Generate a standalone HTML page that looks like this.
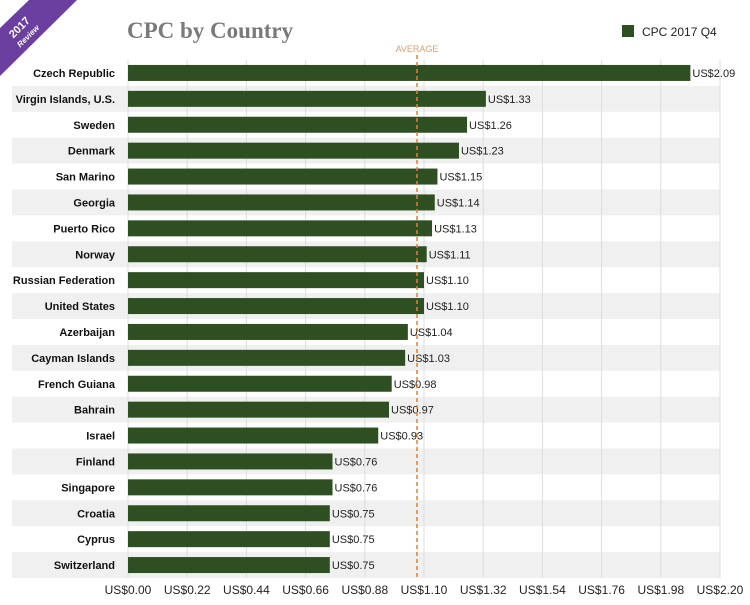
<!DOCTYPE html>
<html><head><meta charset="utf-8"><style>
body{margin:0;background:#fff;width:750px;height:600px;overflow:hidden;font-family:"Liberation Sans",sans-serif}
svg text{font-family:"Liberation Sans",sans-serif}
svg text.title{font-family:"Liberation Serif",serif}
</style></head><body>
<svg id="chart" width="750" height="600">
<g>
<polygon points="0,28 0,76 77,0 29,0" fill="#6b3fa0"/>
<text x="22" y="30" fill="#fff" font-size="11" font-weight="bold" transform="rotate(-45 22 30)" text-anchor="middle">2017</text>
<text x="30" y="38" fill="#fff" font-size="8" font-style="italic" font-weight="bold" transform="rotate(-45 30 38)" text-anchor="middle">Review</text>
</g>
<text class="title" x="127" y="38" font-size="23" font-weight="bold" fill="#7a7a7a">CPC by Country</text>
<g>
<rect x="622" y="25" width="12" height="12" fill="#2e4f22"/>
<text x="642" y="36" font-size="12" fill="#222">CPC 2017 Q4</text>
</g>
<g id="grid"></g><g id="bars"></g><g id="axis"></g>
</svg>
<script>
const categories=["Czech Republic","Virgin Islands, U.S.","Sweden","Denmark","San Marino","Georgia","Puerto Rico","Norway","Russian Federation","United States","Azerbaijan","Cayman Islands","French Guiana","Bahrain","Israel","Finland","Singapore","Croatia","Cyprus","Switzerland"];
const values=[2.09,1.33,1.26,1.23,1.15,1.14,1.13,1.11,1.10,1.10,1.04,1.03,0.98,0.97,0.93,0.76,0.76,0.75,0.75,0.75];
const ticks=[0,0.22,0.44,0.66,0.88,1.10,1.32,1.54,1.76,1.98,2.20];
const average=[1.074];
const NS="http://www.w3.org/2000/svg";
const x0=128,x1=720,xmax=2.2,yTop=60,step=25.9,barH=16;
const X=v=>x0+(v/xmax)*(x1-x0);
const Y=i=>yTop+i*step;
function mk(t,a,p){const e=document.createElementNS(NS,t);for(const k in a)e.setAttribute(k,a[k]);p.appendChild(e);return e;}
const grid=document.getElementById('grid'),bars=document.getElementById('bars'),axis=document.getElementById('axis');
categories.forEach((c,i)=>{
  if(i%2==1){const r=mk('rect',{x:12,y:Y(i),width:x1-12,height:step,fill:'#f0f0f0'},grid);
  
  }
});
ticks.forEach(t=>{
  const l=mk('line',{x1:X(t),x2:X(t),y1:yTop,y2:Y(categories.length),stroke:'#ddd','stroke-width':1},grid);
  
  
  const tx=mk('text',{x:X(t),y:594,'font-size':12,fill:'#222','text-anchor':'middle'},axis);
  tx.textContent='US$'+t.toFixed(2);
  
  
});
categories.forEach((c,i)=>{
  const cy=Y(i)+step/2;
  const lb=mk('text',{x:115,y:cy+4,'font-size':11,'font-weight':'bold',fill:'#111','text-anchor':'end'},axis);
  lb.textContent=c;
  
  
  const b=mk('rect',{x:x0,y:cy-barH/2,width:X(values[i])-x0,height:barH,fill:'#2e4f22'},bars);
  
  
  const v=mk('text',{x:X(values[i])+2,y:cy+4,'font-size':11,fill:'#222'},bars);
  v.textContent='US$'+values[i].toFixed(2);
  
  
});
const al=mk('line',{x1:X(average[0]),x2:X(average[0]),y1:yTop-5,y2:Y(categories.length),stroke:'#d9823b','stroke-width':1.5,'stroke-dasharray':'4,3'},bars);


const at=mk('text',{x:X(average[0]),y:52,'font-size':9,fill:'#d9a070','text-anchor':'middle'},bars);
at.textContent='AVERAGE';


</script>
</body></html>
